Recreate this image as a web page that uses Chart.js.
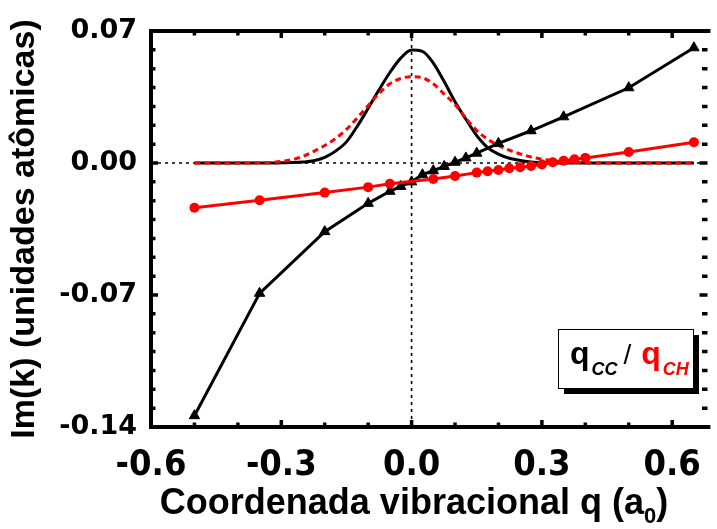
<!DOCTYPE html>
<html>
<head>
<meta charset="utf-8">
<script src="https://cdn.jsdelivr.net/npm/chart.js@4.4.1/dist/chart.umd.min.js"></script>
<style>
  html, body { margin: 0; padding: 0; background: #fff; }
  #wrap { width: 717px; height: 529px; }
</style>
</head>
<body>
<div id="wrap"><canvas id="grafico"></canvas></div>
<script>
// curvas gaussianas (mesma grade de q)
const gaussX = [-0.5, -0.425, -0.35, -0.325, -0.3, -0.275, -0.25, -0.225, -0.2, -0.175, -0.15, -0.125, -0.1, -0.075, -0.05, -0.025,
  0, 0.025, 0.05, 0.075, 0.1, 0.125, 0.15, 0.175, 0.2, 0.225, 0.25, 0.275, 0.3, 0.325, 0.35, 0.375, 0.4, 0.425, 0.45, 0.55, 0.65];
const gaussPreta = [0, 0, 0, 0, 0.0001, 0.0002, 0.0005, 0.0012, 0.003, 0.0063, 0.0112, 0.0195, 0.029, 0.0388, 0.048, 0.0556,
  0.0599, 0.0592, 0.053, 0.0432, 0.0325, 0.0232, 0.0145, 0.0082, 0.0047, 0.0025, 0.0013, 0.0006, 0.0002, 0.0001, 0, 0, 0, 0, 0, 0, 0];
const gaussVermelha = [0, 0, 0.0001, 0.0003, 0.0008, 0.0018, 0.0035, 0.0062, 0.0093, 0.013, 0.0178, 0.024, 0.0305, 0.0368, 0.042, 0.0448,
  0.0458, 0.0452, 0.042, 0.0365, 0.031, 0.0238, 0.0172, 0.0126, 0.0093, 0.0068, 0.0048, 0.0032, 0.002, 0.0012, 0.0006, 0.0003, 0.0001, 0, 0, 0, 0];

// qCC (triangulos pretos)
const ccX = [-0.5, -0.35, -0.2, -0.1, -0.05, -0.025, 0, 0.025, 0.05, 0.075, 0.1, 0.125, 0.15, 0.2, 0.275, 0.35, 0.5, 0.65];
const ccY = [-0.134, -0.0691, -0.0364, -0.0214, -0.015, -0.0124, -0.01, -0.0062, -0.0041, -0.0018, 0.0004, 0.0027, 0.0052, 0.0104, 0.0171, 0.0245, 0.0399, 0.0611];

// qCH (circulos vermelhos)
const chX = [-0.5, -0.35, -0.2, -0.1, -0.05, 0.05, 0.1, 0.15, 0.175, 0.2, 0.225, 0.25, 0.275, 0.3, 0.325, 0.35, 0.375, 0.4, 0.5, 0.65];
const chY = [-0.0237, -0.0198, -0.0157, -0.0128, -0.011, -0.0085, -0.0069, -0.0051, -0.0044, -0.0037, -0.0028, -0.0022, -0.0016, -0.0008, 0.0004, 0.0012, 0.002, 0.0027, 0.0058, 0.011];

// limites e ticks (rotulados e secundarios)
const xMin = -0.6, xMax = 0.679, yMin = -0.14, yMax = 0.07;
const xTicks = [-0.6, -0.5, -0.4, -0.3, -0.2, -0.1, 0.0, 0.1, 0.2, 0.3, 0.4, 0.5, 0.6];
const xRotulos = [-0.6, -0.3, 0.0, 0.3, 0.6];
const yTicks = [-0.14, -0.13, -0.12, -0.11, -0.1, -0.09, -0.08, -0.07, -0.06, -0.05, -0.04, -0.03, -0.02, -0.01,
  0.0, 0.01, 0.02, 0.03, 0.04, 0.05, 0.06, 0.07];
const yRotulos = [-0.14, -0.07, 0.0, 0.07];

function pares(xs, ys) {
  return xs.map((x, i) => ({ x: x, y: ys[i] }));
}
function ehRotulo(lista, v) {
  return lista.some(r => Math.abs(r - v) < 1e-9);
}

// tracinhos dos eixos como pontos "line" (a metade de fora fica cortada pelo clip)
function tracinhos(pontos, rot, rotulos, chave) {
  return {
    label: 'ticks',
    data: pontos,
    showLine: false,
    pointStyle: 'line',
    rotation: rot,
    pointRadius: pontos.map(p => ehRotulo(rotulos, p[chave]) ? 7 : 4.5),
    pointBorderColor: '#000',
    pointBorderWidth: 3.5,
    clip: 1
  };
}

// linhas pontilhadas em q=0 e Im(k)=0
const linhasZero = {
  id: 'linhasZero',
  beforeDatasetsDraw(chart) {
    const ctx = chart.ctx;
    const a = chart.chartArea;
    const x0 = chart.scales.x.getPixelForValue(0);
    const y0 = chart.scales.y.getPixelForValue(0);
    ctx.save();
    ctx.strokeStyle = '#000';
    ctx.lineWidth = 1.6;
    ctx.setLineDash([3, 4]);
    ctx.beginPath();
    ctx.moveTo(a.left, y0); ctx.lineTo(a.right, y0);
    ctx.moveTo(x0, a.top); ctx.lineTo(x0, a.bottom);
    ctx.stroke();
    ctx.restore();
  }
};

// titulo do eixo x (com subscrito) e caixa "qCC / qCH"
const textos = {
  id: 'textos',
  afterDraw(chart) {
    const ctx = chart.ctx;
    ctx.save();
    ctx.fillStyle = '#000';
    ctx.textBaseline = 'alphabetic';
    const fT = 'bold 36px "Liberation Sans", Arial, sans-serif';
    const fS = 'bold 22px "Liberation Sans", Arial, sans-serif';
    const p1 = 'Coordenada vibracional q (a', p2 = '0', p3 = ')';
    ctx.font = fT; const w1 = ctx.measureText(p1).width, w3 = ctx.measureText(p3).width;
    ctx.font = fS; const w2 = ctx.measureText(p2).width;
    let tx = 414 - (w1 + w2 + w3) / 2;
    const tb = 514;
    ctx.font = fT; ctx.fillText(p1, tx, tb); tx += w1;
    ctx.font = fS; ctx.fillText(p2, tx, tb + 9); tx += w2;
    ctx.font = fT; ctx.fillText(p3, tx, tb);

    const bx = 558, by = 329, bw = 135, bh = 59;
    ctx.fillRect(bx + 6, by + 6, bw, bh);
    ctx.fillStyle = '#fff';
    ctx.fillRect(bx, by, bw, bh);
    ctx.strokeStyle = '#000';
    ctx.lineWidth = 1;
    ctx.strokeRect(bx + 0.5, by + 0.5, bw, bh);
    let x = bx + 12;
    const base = by + 35;
    const grande = 'bold 32px "Liberation Sans", Arial, sans-serif';
    const sub = 'italic bold 18px "Liberation Sans", Arial, sans-serif';
    function escreve(txt, fonte, cor, dy) {
      ctx.font = fonte;
      ctx.fillStyle = cor;
      ctx.fillText(txt, x, base + dy);
      x += ctx.measureText(txt).width;
    }
    escreve('q', grande, '#000', 0);
    x += 2;
    escreve('CC', sub, '#000', 11);
    x += 6;
    escreve('/', '28px "Liberation Sans", Arial, sans-serif', '#000', 0);
    x += 10;
    escreve('q', grande, '#ff0000', 0);
    x += 2;
    escreve('CH', sub, '#ff0000', 11);
    ctx.restore();
  }
};

const semGrade = { display: false, drawTicks: false };

const grafico = new Chart(document.getElementById('grafico'), {
  type: 'line',
  data: {
    datasets: [
      {
        label: 'moldura',
        data: [{ x: xMax + 0.01, y: yMin }, { x: xMin, y: yMin }, { x: xMin, y: yMax }, { x: xMax + 0.01, y: yMax }],
        borderColor: '#000',
        borderWidth: 4,
        pointRadius: 0,
        clip: 4
      },
      tracinhos(xTicks.map(v => ({ x: v, y: yMin })), 90, xRotulos, 'x'),
      tracinhos(xTicks.map(v => ({ x: v, y: yMax })), 90, xRotulos, 'x'),
      tracinhos(yTicks.map(v => ({ x: xMin, y: v })), 0, yRotulos, 'y'),
      tracinhos(yTicks.map(v => ({ x: xMax, y: v })), 0, yRotulos, 'y'),
      {
        label: 'qCH',
        data: pares(chX, chY),
        borderColor: '#ff0000',
        backgroundColor: '#ff0000',
        borderWidth: 3,
        pointStyle: 'circle',
        pointRadius: 5,
        pointBorderWidth: 0
      },
      {
        label: 'qCC',
        data: pares(ccX, ccY),
        borderColor: '#000',
        backgroundColor: '#000',
        borderWidth: 3,
        pointStyle: 'triangle',
        pointRadius: 6,
        pointBorderWidth: 1
      },
      {
        label: 'gauss qCH',
        data: pares(gaussX, gaussVermelha),
        borderColor: '#ff0000',
        borderWidth: 3,
        borderDash: [6, 4],
        pointRadius: 0,
        cubicInterpolationMode: 'monotone'
      },
      {
        label: 'gauss qCC',
        data: pares(gaussX, gaussPreta),
        borderColor: '#000',
        borderWidth: 3,
        pointRadius: 0,
        cubicInterpolationMode: 'monotone'
      }
    ]
  },
  options: {
    responsive: true,
    maintainAspectRatio: false,
    animation: false,
    layout: { padding: { top: 31, right: 0, left: 0, bottom: 0 } },
    plugins: {
      legend: { display: false },
      tooltip: { enabled: false }
    },
    scales: {
      x: {
        type: 'linear',
        min: xMin,
        max: xMax,
        grid: semGrade,
        border: { display: false },
        afterBuildTicks: (s) => { s.ticks = xRotulos.map(v => ({ value: v })); },
        afterFit: (s) => { s.height = 102; s.paddingLeft = 0; s.paddingRight = 0; },
        ticks: {
          color: '#000',
          padding: 17,
          maxRotation: 0,
          autoSkip: false,
          font: { family: '"Liberation Sans Narrow", "DejaVu Sans Condensed", sans-serif', weight: 'bold', size: 36 },
          callback: (v) => Number(v).toFixed(1)
        }
      },
      y: {
        type: 'linear',
        min: yMin,
        max: yMax,
        grid: semGrade,
        border: { display: false },
        afterBuildTicks: (s) => { s.ticks = yRotulos.map(v => ({ value: v })); },
        afterFit: (s) => { s.width = 151; s.paddingTop = 0; s.paddingBottom = 0; },
        ticks: {
          color: '#000',
          padding: 14,
          autoSkip: false,
          font: { family: '"DejaVu Sans"', weight: 'bold', size: 27 },
          callback: (v) => Number(v).toFixed(2)
        },
        title: {
          display: true,
          text: 'Im(k) (unidades atômicas)',
          color: '#000',
          padding: { top: 4, bottom: 2 },
          font: { family: '"Liberation Sans", Arial, sans-serif', weight: 'bold', size: 34 }
        }
      }
    }
  },
  plugins: [linhasZero, textos]
});
</script>
</body>
</html>
